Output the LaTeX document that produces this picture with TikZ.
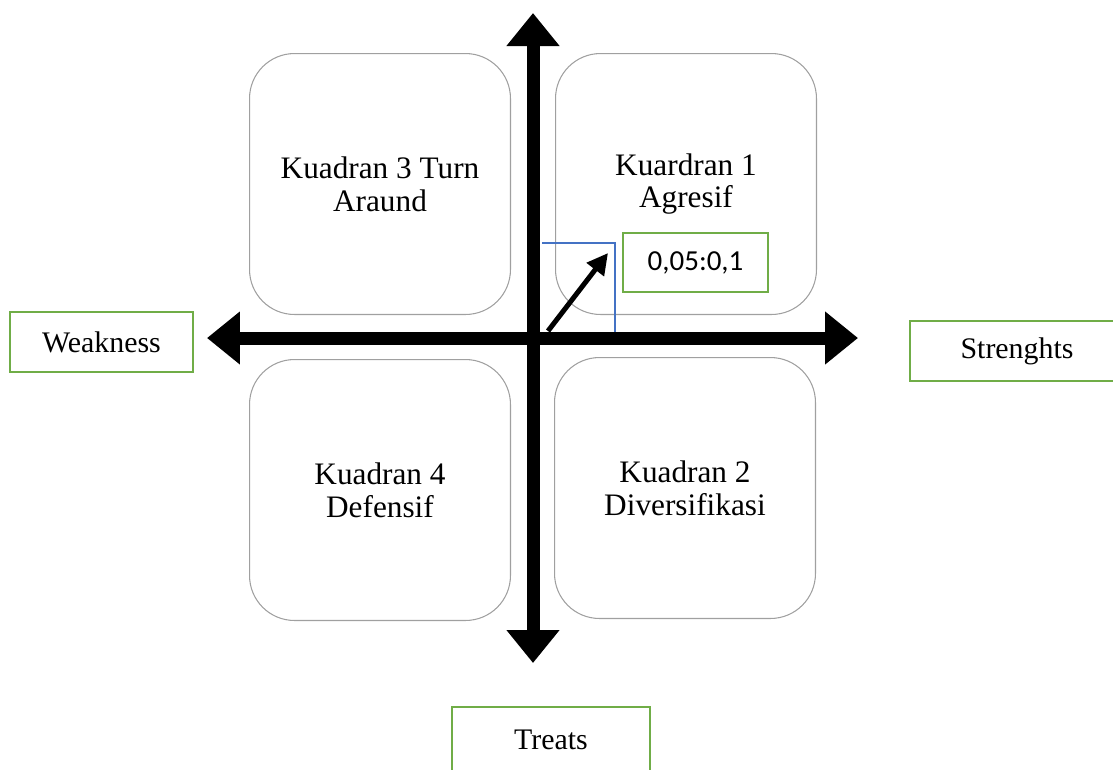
\documentclass[tikz,border=0pt]{standalone}
\usepackage{fontspec}
\setmainfont{Liberation Serif}
\newfontfamily\valuefont{Carlito}
\usetikzlibrary{arrows.meta}
\definecolor{boxgreen}{HTML}{70AD47}
\definecolor{guideblue}{HTML}{4472C4}
\definecolor{quadgray}{HTML}{A0A0A0}

\begin{document}
\begin{tikzpicture}[x=0.02cm,y=-0.02cm,
  quad/.style={draw=quadgray,line width=0.6pt,rounded corners=0.9cm,minimum width=5.22cm,minimum height=5.22cm,align=center,font=\fontsize{17.8}{18.6}\selectfont},
  side/.style={draw=boxgreen,line width=1.1pt,minimum height=1.2cm,inner sep=0pt,font=\fontsize{17}{18.5}\selectfont},
  axis/.style={line width=0.26cm,{Triangle[length=0.66cm,width=1.02cm]}-{Triangle[length=0.66cm,width=1.02cm]}}]
  \useasboundingbox (0,0) rectangle (1113,769);

  \node[quad] (q3) at (380,184) {Kuadran 3 Turn\\Araund};
  \node[quad] (q1) at (686,184) {Kuardran 1\\Agresif};
  \node[quad] (q4) at (380,490) {Kuadran 4\\Defensif};
  \node[quad] (q2) at (685,488) {Kuadran 2\\Diversifikasi};

  \node[side,minimum width=3.66cm] (weak)   at (101.5,342) {Weakness};
  \node[side,minimum width=4.28cm] (strong) at (1017,351)  {Strenghts};
  \node[side,minimum width=3.96cm,minimum height=1.3cm] (treat) at (551,739.5) {Treats};
  \node[side,line width=0.8pt,minimum width=2.9cm,minimum height=1.18cm,font=\valuefont\fontsize{16.5}{19}\selectfont] (val) at (695.5,262.5) {0,05:0,1};

  \coordinate (top)    at (533,13);
  \coordinate (bottom) at (533,663);
  \coordinate (west)   at (207,338);
  \coordinate (east)   at (858,338);
  \coordinate (b1) at (542,243);
  \coordinate (b2) at (615,243);
  \coordinate (b3) at (615,337);
  \coordinate (origin) at (548,331);
  \coordinate (point)  at (608,253);

  \draw[guideblue,line width=0.6pt] (b1) -- (b2) -- (b3);
  \draw[axis] (top) -- (bottom);
  \draw[axis] (west) -- (east);
  \draw[line width=0.1cm,-{Triangle[length=0.42cm,width=0.42cm]}] (origin) -- (point);
\end{tikzpicture}
\end{document}
